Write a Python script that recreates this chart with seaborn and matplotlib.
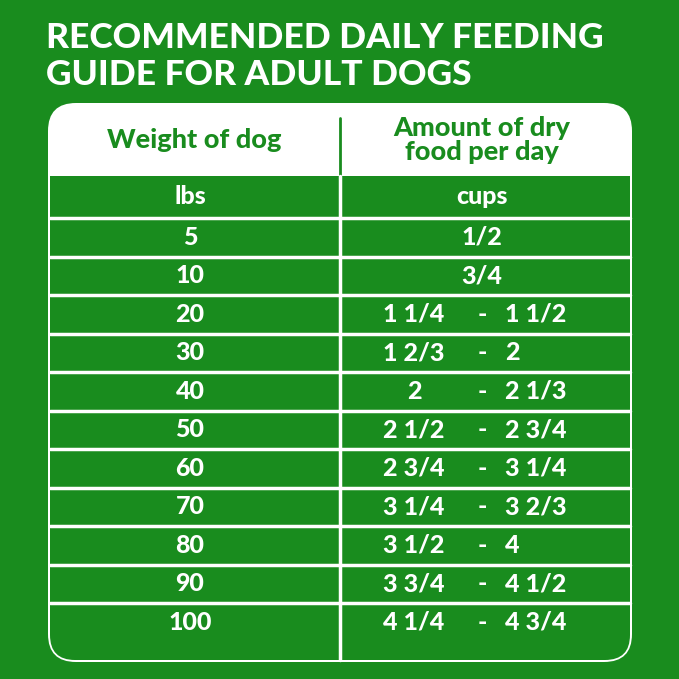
import matplotlib
matplotlib.use("Agg")
import matplotlib.pyplot as plt
import seaborn as sns
from matplotlib.patches import FancyBboxPatch, Rectangle

title_lines = ["RECOMMENDED DAILY FEEDING", "GUIDE FOR ADULT DOGS"]
col_headers = ["Weight of dog", "Amount of dry\nfood per day"]
units = ["lbs", "cups"]
weights = ["5", "10", "20", "30", "40", "50", "60", "70", "80", "90", "100"]
cups_low = ["1/2", "3/4", "1 1/4", "1 2/3", "2", "2 1/2", "2 3/4", "3 1/4", "3 1/2", "3 3/4", "4 1/4"]
cups_high = ["", "", "1 1/2", "2", "2 1/3", "2 3/4", "3 1/4", "3 2/3", "4", "4 1/2", "4 3/4"]

sns.set_theme(style="white")
plt.rcParams['font.family'] = ['Lato', 'DejaVu Sans']
GREEN = "#198c1e"
W = 679
fig = plt.figure(figsize=(6.79, 6.79), dpi=100, facecolor=GREEN)
ax = fig.add_axes([0, 0, 1, 1])
ax.set_xlim(0, W); ax.set_ylim(W, 0); ax.axis("off")
ax.set_facecolor(GREEN)

for i, t in enumerate(title_lines):
    ax.text(46, 38 + i * 37, t, color="white", fontsize=25.5, fontweight="black", va="center", ha="left")

x0, x1, xm = 48, 632, 340
ax.add_patch(FancyBboxPatch((x0, 103), x1 - x0, 559, boxstyle="round,pad=0,rounding_size=28",
                            fc="white", ec="none"))
ax.add_patch(FancyBboxPatch((x0 + 2, 176), x1 - x0 - 4, 484, boxstyle="round,pad=0,rounding_size=25",
                            fc=GREEN, ec="none"))
ax.add_patch(Rectangle((x0 + 2, 176), x1 - x0 - 4, 60, fc=GREEN, ec="none"))
ax.plot([xm, xm], [118, 176], color=GREEN, lw=2)
ax.plot([xm, xm], [176, 660], color="white", lw=2.5)

ax.text(194, 140, col_headers[0], color=GREEN, fontsize=19.5, fontweight="black", ha="center", va="center")
ax.text(482, 140, col_headers[1], color=GREEN, fontsize=19.5, fontweight="black", ha="center", va="center",
        linespacing=1.0)

bounds = [176, 218] + [218 + 38.5 * (k + 1) for k in range(11)]
for b in bounds[1:-1]:
    ax.plot([x0 + 2, x1 - 2], [b, b], color="white", lw=2.5)

fs = 18
ax.text(190, 197, units[0], color="white", fontsize=fs, fontweight="black", ha="center", va="center")
ax.text(482, 197, units[1], color="white", fontsize=fs, fontweight="black", ha="center", va="center")
for i, w in enumerate(weights):
    y = (bounds[i + 1] + bounds[i + 2]) / 2
    ax.text(190, y, w, color="white", fontsize=fs, fontweight="black", ha="center", va="center")
    if cups_high[i]:
        ax.text(414, y, cups_low[i], color="white", fontsize=fs, fontweight="black", ha="center", va="center")
        ax.text(482, y, "-", color="white", fontsize=fs, fontweight="black", ha="center", va="center")
        ax.text(505, y, cups_high[i], color="white", fontsize=fs, fontweight="black", ha="left", va="center")
    else:
        ax.text(482, y, cups_low[i], color="white", fontsize=fs, fontweight="black", ha="center", va="center")

fig.savefig("out.png", dpi=100, facecolor=GREEN)
